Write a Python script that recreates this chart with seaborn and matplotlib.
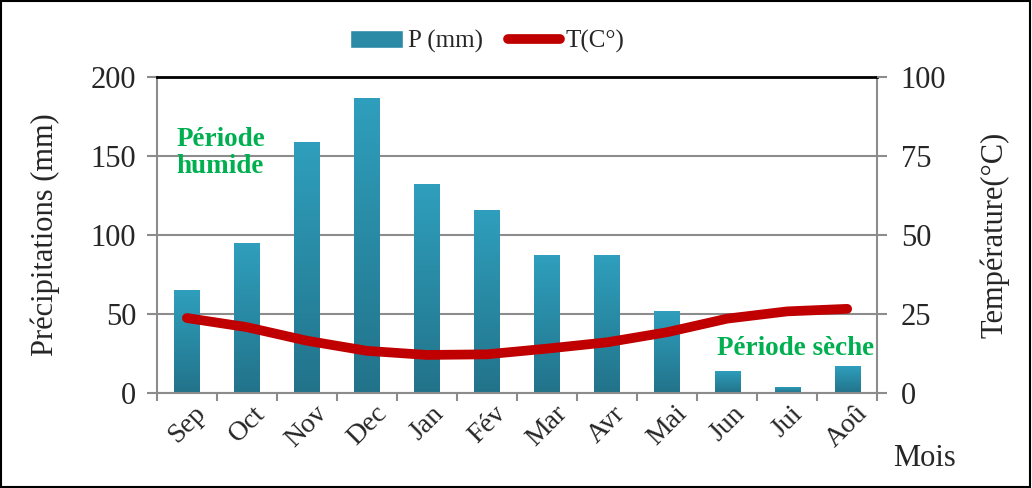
import numpy as np
import pandas as pd
import seaborn as sns
import matplotlib.pyplot as plt
from matplotlib.patches import Patch, Rectangle
from matplotlib.lines import Line2D
from matplotlib.colors import LinearSegmentedColormap

months = ["Sep", "Oct", "Nov", "Dec", "Jan", "Fév", "Mar", "Avr", "Mai", "Jun", "Jui", "Aoû"]
precip = [65, 95, 159, 187, 132, 116, 87, 87, 52, 14, 4, 17]
temp = [23.7, 20.8, 16.5, 13.3, 12.0, 12.2, 14.0, 16.0, 19.2, 23.5, 25.8, 26.6]

sns.set_style("white")
plt.rcParams['font.family'] = ['Liberation Serif', 'DejaVu Serif']

df = pd.DataFrame({"mois": months, "P": precip, "T": temp, "pos": np.arange(len(months))})

fig = plt.figure(figsize=(10.32, 4.88), dpi=100)
ax = fig.add_axes([0.152, 0.195, 0.698, 0.647])

sns.barplot(data=df, x="mois", y="P", color="#2b8aa5", width=0.42, saturation=1, ax=ax)

# gradient fill for bars (light top, dark bottom)
cmap = LinearSegmentedColormap.from_list("bar", ["#22738a", "#2f9fbd"])
grad = np.linspace(0, 1, 256).reshape(-1, 1)
for p in ax.patches:
    x0, y0 = p.get_x(), p.get_y()
    w, h = p.get_width(), p.get_height()
    im = ax.imshow(grad, cmap=cmap, aspect="auto", origin="lower",
                   extent=[x0, x0 + w, y0, y0 + h], zorder=2)
    im.set_clip_path(p)
    p.set_facecolor("none")
    p.set_edgecolor("none")

ax.set_xlim(-0.5, len(months) - 0.5)
ax.set_ylim(0, 200)
ax.set_yticks([0, 50, 100, 150, 200])
ax.yaxis.grid(True, color="#8c8c8c", linewidth=1.5)
ax.set_axisbelow(True)
ax.set_xlabel("")
ax.set_ylabel("Précipitations (mm)", fontsize=22, labelpad=22)
ax.tick_params(axis="y", labelsize=22, length=7, width=1.5, color="#8c8c8c", direction="out",
               left=True, pad=8)
ax.set_xticks(np.arange(len(months)))
ax.set_xticklabels(months, rotation=45, fontsize=20, ha="center", va="top")
ax.tick_params(axis="x", length=0, pad=6)
ax.set_xticks(np.arange(-0.5, len(months), 1), minor=True)
ax.tick_params(axis="x", which="minor", length=6, width=1.5, color="#8c8c8c", direction="out", bottom=True)
for s in ["left", "right", "bottom"]:
    ax.spines[s].set_color("#8c8c8c")
    ax.spines[s].set_linewidth(1.5)
ax.spines["top"].set_color("black")
ax.spines["top"].set_linewidth(2)

ax2 = ax.twinx()
sns.lineplot(data=df, x="pos", y="T", color="#c00000", linewidth=7, sort=False, ax=ax2,
             solid_capstyle="round", solid_joinstyle="round", zorder=5)
ax2.set_ylim(0, 100)
ax2.set_yticks([0, 25, 50, 75, 100])
ax2.set_xlim(-0.5, len(months) - 0.5)
ax2.set_xlabel("")
ax2.set_ylabel("Température(°C)", fontsize=22, labelpad=24)
ax2.tick_params(axis="y", labelsize=22, length=7, width=1.5, color="#8c8c8c", direction="out",
                right=True, pad=10)
for s in ax2.spines.values():
    s.set_visible(False)

fig.text(0.865, 0.045, "Mois", fontsize=22)

ax.text(-0.18, 152, "Période\nhumide", fontsize=19.5, fontweight="bold", color="#00b050",
        va="center", ha="left", linespacing=1.1)
ax.text(11.45, 28, "Période sèche", fontsize=19.5, fontweight="bold", color="#00b050",
        va="center", ha="right")

handles = [Patch(facecolor="#2b8aa5"), Line2D([0], [0], color="#c00000", linewidth=7, solid_capstyle="round")]
fig.legend(handles, ["P (mm)", "T(C°)"], loc="center", bbox_to_anchor=(0.472, 0.915), ncol=2,
           frameon=False, fontsize=18, handlelength=2.1, handletextpad=0.2, columnspacing=1.0)

fig.add_artist(Rectangle((0.001, 0.002), 0.997, 0.996, transform=fig.transFigure,
                         fill=False, edgecolor="black", linewidth=1.5))

fig.savefig("out.png", dpi=100)
